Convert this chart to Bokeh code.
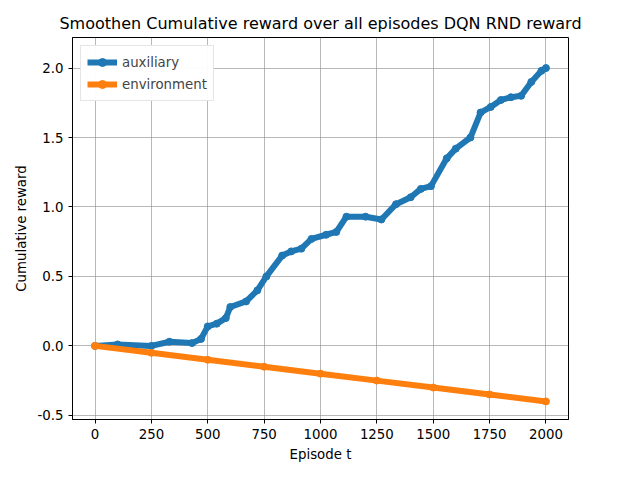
from bokeh.plotting import figure
from bokeh.models import Legend, LegendItem, Label, FixedTicker, NumeralTickFormatter
from bokeh.embed import file_html
from bokeh.resources import INLINE

# episodes and smoothed cumulative reward (units of 1e6)
aux_x = [0, 100, 250, 330, 430, 470, 500, 540, 580, 600, 670, 720, 760, 830, 870, 915, 960,
         1025, 1070, 1115, 1200, 1270, 1335, 1400, 1445, 1490, 1560, 1600, 1665, 1710, 1755,
         1800, 1845, 1890, 1935, 1980, 2000]
aux_y = [0.0, 0.01, 0.0, 0.03, 0.02, 0.05, 0.14, 0.16, 0.2, 0.28, 0.32, 0.4, 0.5, 0.65, 0.68,
         0.7, 0.77, 0.8, 0.82, 0.93, 0.93, 0.91, 1.02, 1.07, 1.13, 1.15, 1.35, 1.42, 1.5, 1.68,
         1.72, 1.77, 1.79, 1.8, 1.9, 1.98, 2.0]
env_x = [0, 250, 500, 750, 1000, 1250, 1500, 1750, 2000]
env_y = [0.0, -0.05, -0.1, -0.15, -0.2, -0.25, -0.3, -0.35, -0.4]

blue = "#1f77b4"
orange = "#ff7f0e"

p = figure(width=624, height=464, output_backend="svg", toolbar_location=None,
           x_range=(-100, 2100), y_range=(-0.53, 2.22),
           min_border_left=72, min_border_right=56, min_border_top=37, min_border_bottom=44,
           title="Smoothen Cumulative reward over all episodes DQN RND reward")
p.title.align = "center"
p.title.text_font = "DejaVu Sans"
p.title.text_font_size = "12pt"
p.title.text_font_style = "normal"
p.title.text_color = "black"

la = p.line(aux_x, aux_y, color=blue, line_width=6)
sa = p.scatter(aux_x, aux_y, color=blue, size=7)
le = p.line(env_x, env_y, color=orange, line_width=6)
se = p.scatter(env_x, env_y, color=orange, size=7)

legend = Legend(items=[LegendItem(label="auxiliary", renderers=[la, sa]),
                       LegendItem(label="environment", renderers=[le, se])],
                location="top_left", border_line_color="#cccccc",
                label_text_font="DejaVu Sans", label_text_font_size="10pt",
                glyph_width=30, spacing=2, padding=6, margin=8)
p.add_layout(legend)

p.xaxis.ticker = FixedTicker(ticks=[0, 250, 500, 750, 1000, 1250, 1500, 1750, 2000])
p.yaxis.ticker = FixedTicker(ticks=[-0.5, 0.0, 0.5, 1.0, 1.5, 2.0])
p.yaxis.formatter = NumeralTickFormatter(format="0.0")
p.xaxis.axis_label = "Episode t"
p.yaxis.axis_label = "Cumulative reward"
for ax in (p.xaxis, p.yaxis):
    ax.axis_label_text_font = "DejaVu Sans"
    ax.axis_label_text_font_style = "normal"
    ax.axis_label_text_font_size = "10pt"
    ax.axis_label_text_color = "black"
    ax.major_label_text_font = "DejaVu Sans"
    ax.major_label_text_font_size = "10pt"
    ax.major_label_text_color = "black"
    ax.minor_tick_line_color = None
    ax.major_tick_in = 0
    ax.major_tick_out = 4
    ax.axis_line_color = "black"
    ax.major_tick_line_color = "black"
p.grid.grid_line_color = "#888888"
p.grid.grid_line_alpha = 0.6
p.outline_line_color = "black"

p.add_layout(Label(x=-100, y=2.22, text="1e6", y_offset=3,
                   text_font="DejaVu Sans", text_font_size="10pt",
                   text_baseline="bottom"))

open("out.html", "w").write(file_html(p, INLINE))
